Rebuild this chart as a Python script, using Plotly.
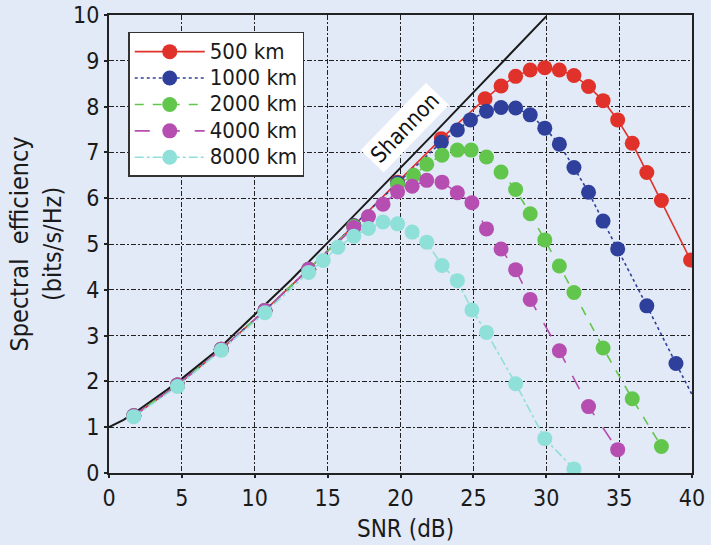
import plotly.graph_objects as go

# ---- data ----
snr_500 = [1.7, 4.7, 7.7, 10.7, 13.7, 16.8, 19.8, 22.8, 25.8, 26.9, 27.9, 28.9, 29.9, 30.9, 31.9, 32.9, 33.9, 34.9, 35.9, 36.9, 37.9, 39.9]
se_500 = [1.25, 1.92, 2.70, 3.55, 4.45, 5.40, 6.35, 7.30, 8.17, 8.45, 8.66, 8.80, 8.85, 8.80, 8.68, 8.44, 8.13, 7.71, 7.20, 6.56, 5.95, 4.65]

snr_1000 = [1.7, 4.7, 7.7, 10.7, 13.7, 16.8, 19.8, 22.8, 23.9, 24.8, 25.9, 26.9, 27.9, 28.9, 29.9, 30.9, 31.9, 32.9, 33.9, 34.9, 36.9, 38.9, 41.0]
se_1000 = [1.25, 1.92, 2.70, 3.55, 4.45, 5.40, 6.33, 7.22, 7.49, 7.71, 7.90, 7.98, 7.97, 7.82, 7.53, 7.18, 6.67, 6.13, 5.50, 4.89, 3.65, 2.39, 1.10]

snr_2000 = [1.7, 4.7, 7.7, 10.7, 13.7, 16.8, 19.8, 20.9, 21.8, 22.85, 23.9, 24.85, 25.9, 26.9, 27.9, 28.9, 29.9, 30.9, 31.9, 33.9, 35.9, 37.9]
se_2000 = [1.25, 1.92, 2.70, 3.55, 4.45, 5.38, 6.30, 6.50, 6.74, 6.94, 7.05, 7.05, 6.90, 6.57, 6.19, 5.66, 5.09, 4.52, 3.94, 2.73, 1.62, 0.58]

snr_4000 = [1.7, 4.7, 7.7, 10.7, 13.7, 16.8, 17.8, 18.8, 19.8, 20.8, 21.8, 22.85, 23.9, 24.9, 25.9, 26.9, 27.9, 28.9, 30.9, 32.9, 34.9]
se_4000 = [1.25, 1.92, 2.70, 3.55, 4.45, 5.36, 5.60, 5.87, 6.14, 6.26, 6.39, 6.35, 6.12, 5.90, 5.33, 4.89, 4.44, 3.79, 2.67, 1.45, 0.51]

snr_8000 = [1.7, 4.7, 7.7, 10.7, 13.7, 14.7, 15.7, 16.8, 17.8, 18.8, 19.8, 20.8, 21.8, 22.85, 23.9, 24.9, 25.9, 27.9, 29.9, 31.9]
se_8000 = [1.23, 1.89, 2.68, 3.50, 4.38, 4.64, 4.93, 5.17, 5.34, 5.48, 5.44, 5.26, 5.04, 4.53, 4.20, 3.56, 3.07, 1.95, 0.75, 0.09]

snr_shannon = [0, 1, 2, 3, 4, 5, 7.5, 10, 12.5, 15, 17.5, 20, 22.5, 25, 27.5, 30]
se_shannon = [1.0, 1.16, 1.37, 1.59, 1.82, 2.06, 2.70, 3.46, 4.22, 5.03, 5.84, 6.66, 7.48, 8.31, 9.14, 9.97]

x_ticks = [0, 5, 10, 15, 20, 25, 30, 35, 40]
y_ticks = [0, 1, 2, 3, 4, 5, 6, 7, 8, 9, 10]

series = [
    ("500 km", snr_500, se_500, "#E0322A", "solid"),
    ("1000 km", snr_1000, se_1000, "#2E409C", "dot"),
    ("2000 km", snr_2000, se_2000, "#62C64D", "dash"),
    ("4000 km", snr_4000, se_4000, "#B64DB0", "longdash"),
    ("8000 km", snr_8000, se_8000, "#8FE0D8", "dashdot"),
]

FONT = "DejaVu Sans Condensed, Liberation Sans Narrow, sans-serif"
BG = "#E2E9F7"
TXT = "#1a1a1a"

fig = go.Figure()

fig.add_trace(go.Scatter(x=snr_shannon, y=se_shannon, mode="lines",
                         line=dict(color="#1a1a1a", width=2), showlegend=False,
                         name="Shannon"))

for name, xs, ys, col, dash in series:
    fig.add_trace(go.Scatter(x=xs, y=ys, mode="lines+markers",
                             name="<span style='font-size:22px'>%s</span>" % name,
                             line=dict(color=col, width=1.6, dash=dash),
                             marker=dict(color=col, size=15)))

fig.add_annotation(x=20.3, y=7.55, xref="x", yref="y", text="Shannon",
                   showarrow=False, textangle=-46, bgcolor="white",
                   borderpad=3, font=dict(family=FONT, size=22, color="#111"))

# axis titles
fig.add_annotation(x=-0.1244, y=0.5, xref="paper", yref="paper",
                   text="Spectral  efficiency<br>(bits/s/Hz)", showarrow=False,
                   textangle=-90, xanchor="center", yanchor="middle",
                   font=dict(family=FONT, size=25, color=TXT))
fig.add_annotation(x=0.508, y=-0.1215, xref="paper", yref="paper",
                   text="SNR (dB)", showarrow=False, xanchor="center", yanchor="middle",
                   font=dict(family=FONT, size=24, color=TXT))

grid = dict(showgrid=True, gridcolor="#222", gridwidth=1.3, griddash="5px,2px,2px,2px",
            showline=True, linecolor="#222", linewidth=2, mirror=True,
            ticks="outside", ticklen=3, tickcolor="#222", tickwidth=2,
            zeroline=False, automargin=False,
            tickfont=dict(family=FONT, size=23, color=TXT))

fig.update_xaxes(range=[0, 40], tickvals=x_ticks, **grid)
fig.update_yaxes(range=[0, 10], tickvals=y_ticks, **grid)

fig.update_layout(
    width=711, height=545,
    margin=dict(l=109, r=19, t=15, b=72),
    paper_bgcolor=BG, plot_bgcolor=BG,
    legend=dict(x=0.033, y=0.963, xanchor="left", yanchor="top",
                bgcolor="white", bordercolor="#333", borderwidth=1.5,
                font=dict(family=FONT, size=18, color=TXT),
                itemwidth=70, tracegroupgap=0),
    showlegend=True,
)

fig.write_html("out.html", config={"displayModeBar": False},
               post_script="document.body.style.margin='0';")
